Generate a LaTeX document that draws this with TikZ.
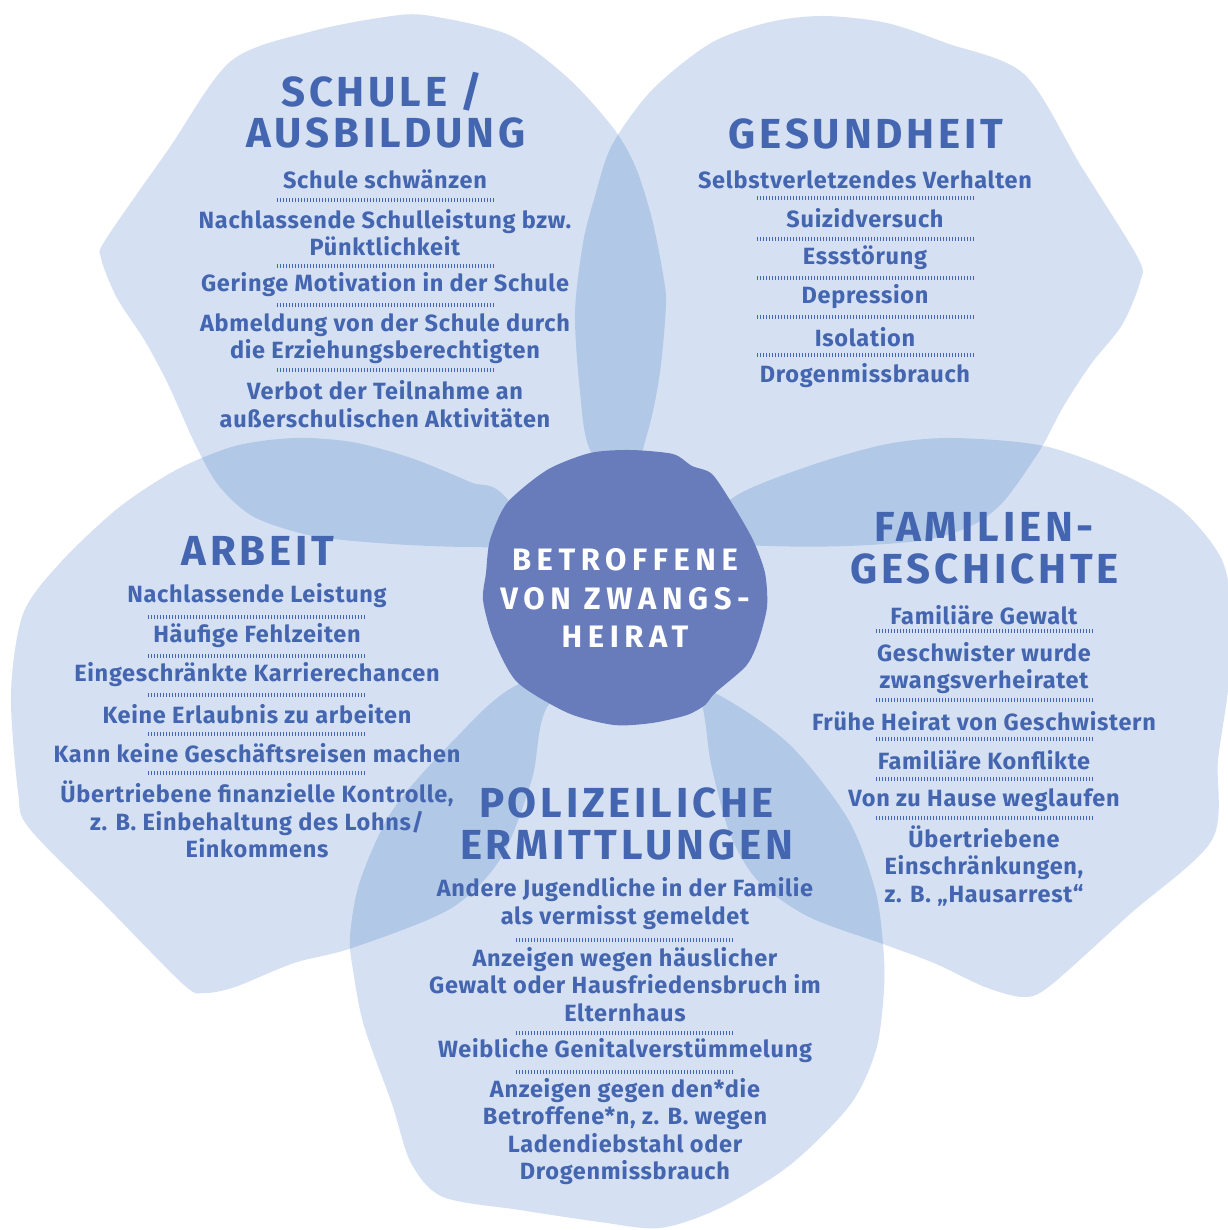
\documentclass[tikz,border=0pt]{standalone}
\usepackage{fontspec}
\setmainfont{Fira Sans}
\newfontfamily\itemfont[LetterSpace=3]{Fira Sans}
\newfontfamily\headfont[LetterSpace=9]{Fira Sans}
\newfontfamily\hubfont[LetterSpace=18]{Fira Sans}
\definecolor{petal}{RGB}{10,80,180}
\definecolor{ink}{RGB}{68,101,175}
\definecolor{hubblue}{RGB}{104,123,187}

\tikzset{
  petalshape/.style={fill=petal, fill opacity=0.17, draw=none},
  item/.style={text=ink, align=center, inner sep=0pt,
    font=\itemfont\bfseries\fontsize{23.5}{27.5}\selectfont},
  head/.style={text=ink, align=center, inner sep=0pt,
    font=\headfont\bfseries\fontsize{42}{42}\selectfont},
  ruler/.style={draw=ink, line width=4.5pt, dash pattern=on 0.9pt off 2.1pt},
}

\begin{document}
\begin{tikzpicture}[x=1pt, y=-1pt]
\fill[white] (0,0) rectangle (1227,1230);
\useasboundingbox (0,0) rectangle (1227,1230);

% five petals
\fill[petalshape] plot[smooth cycle, tension=0.5] coordinates {
  (231,61) (313,31) (392,16) (431,16) (509,35) (568,78) (614,129) (636,168)
  (652,219) (663,274) (666,305) (660,372) (648,431) (620,510) (560,545)
  (470,547) (392,544) (313,536) (254,517) (219,486) (196,446) (168,384)
  (145,341) (117,298) (101,258) (106,239) (168,150)};
\fill[petalshape] plot[smooth cycle, tension=0.5] coordinates {
  (612,145) (652,90) (711,43) (770,22) (824,16) (887,23) (946,43) (1024,74)
  (1081,166) (1138,258) (1140,282) (1122,325) (1091,364) (1063,407)
  (1040,450) (1004,501) (973,525) (926,540) (848,546) (770,546) (700,540)
  (630,500) (590,450) (580,392) (575,313) (583,243) (595,196)};
\fill[petalshape] plot[smooth cycle, tension=0.5] coordinates {
  (734,497) (809,466) (887,444) (954,438) (1044,446) (1122,474) (1181,509)
  (1222,560) (1232,620) (1228,690) (1218,760) (1212,840) (1130,914)
  (1051,985) (1024,997) (985,987) (934,963) (883,944) (809,917) (758,881)
  (730,834) (711,764) (703,709) (680,620) (700,540)};
\fill[petalshape] plot[smooth cycle, tension=0.5] coordinates {
  (517,685) (450,744) (392,811) (360,881) (350,936) (353,970) (364,1026)
  (392,1104) (411,1163) (443,1197) (520,1210) (600,1222) (660,1228)
  (720,1208) (790,1165) (850,1105) (876,1050) (884,990) (883,944) (875,889)
  (848,819) (789,744) (715,693) (626,660)};
\fill[petalshape] plot[smooth cycle, tension=0.5] coordinates {
  (509,501) (470,482) (411,458) (352,442) (294,438) (235,446) (176,470)
  (117,509) (59,564) (23,614) (11,693) (18,791) (29,828) (106,906)
  (184,985) (204,993) (235,987) (294,963) (352,948) (450,909) (501,858)
  (532,779) (546,709) (600,640)};

% centre blob
\fill[hubblue] plot[smooth cycle, tension=0.45] coordinates {
  (590,453) (630,450) (673,454) (692,466) (712,474) (733,505) (753,540)
  (765,573) (767,607) (758,642) (746,666) (715,693) (705,705) (687,715)
  (652,723) (614,725) (568,713) (517,682) (493,638) (483,600) (486,573)
  (490,540) (507,503) (547,470)};
\node[text=white, align=center, inner sep=0pt,
  font=\hubfont\bfseries\fontsize{31}{38.5}\selectfont] (hub) at (625,598)
  {BETROFFENE\\VON ZWANGS-\\HEIRAT};

% Schule / Ausbildung
\node[head] (schuleA) at (382,92) {SCHULE /};
\node[head] (schuleB) at (386,133) {AUSBILDUNG};
\node[item] (s1) at (385,179) {Schule schwänzen};
\node[item] (s2) at (385,232.5) {Nachlassende Schulleistung bzw.\\Pünktlichkeit};
\node[item] (s3) at (385,285) {Geringe Motivation in der Schule};
\node[item] (s4) at (385,338.5) {Abmeldung von der Schule durch\\die Erziehungsberechtigten};
\node[item] (s5) at (385,404) {Verbot der Teilnahme an\\außerschulischen Aktivitäten};
\foreach \yy in {200,266,305,370} \draw[ruler] (277,\yy) -- (495,\yy);

% Gesundheit
\node[head] (gesA) at (866,134) {GESUNDHEIT};
\node[item] (g1) at (865,180) {Selbstverletzendes Verhalten};
\node[item] (g2) at (865,218) {Suizidversuch};
\node[item] (g3) at (865,258) {Essstörung};
\node[item] (g4) at (865,297) {Depression};
\node[item] (g5) at (865,337) {Isolation};
\node[item] (g6) at (865,376) {Drogenmissbrauch};
\foreach \yy in {198,239,278,317,355} \draw[ruler] (757,\yy) -- (975,\yy);

% Arbeit
\node[head] (arbA) at (258,551) {ARBEIT};
\node[item] (a1) at (257,596) {Nachlassende Leistung};
\node[item] (a2) at (257,636) {Häufige Fehlzeiten};
\node[item] (a3) at (257,675) {Eingeschränkte Karrierechancen};
\node[item] (a4) at (257,714) {Keine Erlaubnis zu arbeiten};
\node[item] (a5) at (257,753) {Kann keine Geschäftsreisen machen};
\node[item] (a6) at (257,819.5) {Übertriebene finanzielle Kontrolle,\\z. B. Einbehaltung des Lohns/\\Einkommens};
\foreach \yy in {617,656,695,734,773} \draw[ruler] (148,\yy) -- (366,\yy);

% Familiengeschichte
\node[head] (famA) at (984,527) {FAMILIEN-};
\node[head] (famB) at (984.5,569) {GESCHICHTE};
\node[item] (f1) at (984,615) {Familiäre Gewalt};
\node[item] (f2) at (984,668) {Geschwister wurde\\zwangsverheiratet};
\node[item] (f3) at (984,721) {Frühe Heirat von Geschwistern};
\node[item] (f4) at (984,760) {Familiäre Konflikte};
\node[item] (f5) at (984,800) {Von zu Hause weglaufen};
\node[item] (f6) at (984,866) {Übertriebene\\Einschränkungen,\\z. B. „Hausarrest“};
\foreach \yy in {631,700,739,779,818} \draw[ruler] (876,\yy) -- (1094,\yy);

% Polizeiliche Ermittlungen
\node[head] (polA) at (626.5,803) {POLIZEILICHE};
\node[head] (polB) at (626.5,845) {ERMITTLUNGEN};
\node[item] (p1) at (625,903.5) {Andere Jugendliche in der Familie\\als vermisst gemeldet};
\node[item] (p2) at (625,984.5) {Anzeigen wegen häuslicher\\Gewalt oder Hausfriedensbruch im\\Elternhaus};
\node[item] (p3) at (625,1051) {Weibliche Genitalverstümmelung};
\node[item] (p4) at (625,1131.5) {Anzeigen gegen den*die\\Betroffene*n, z. B. wegen\\Ladendiebstahl oder\\Drogenmissbrauch};
\foreach \yy in {940,1033,1072} \draw[ruler] (516,\yy) -- (734,\yy);
\end{tikzpicture}
\end{document}
